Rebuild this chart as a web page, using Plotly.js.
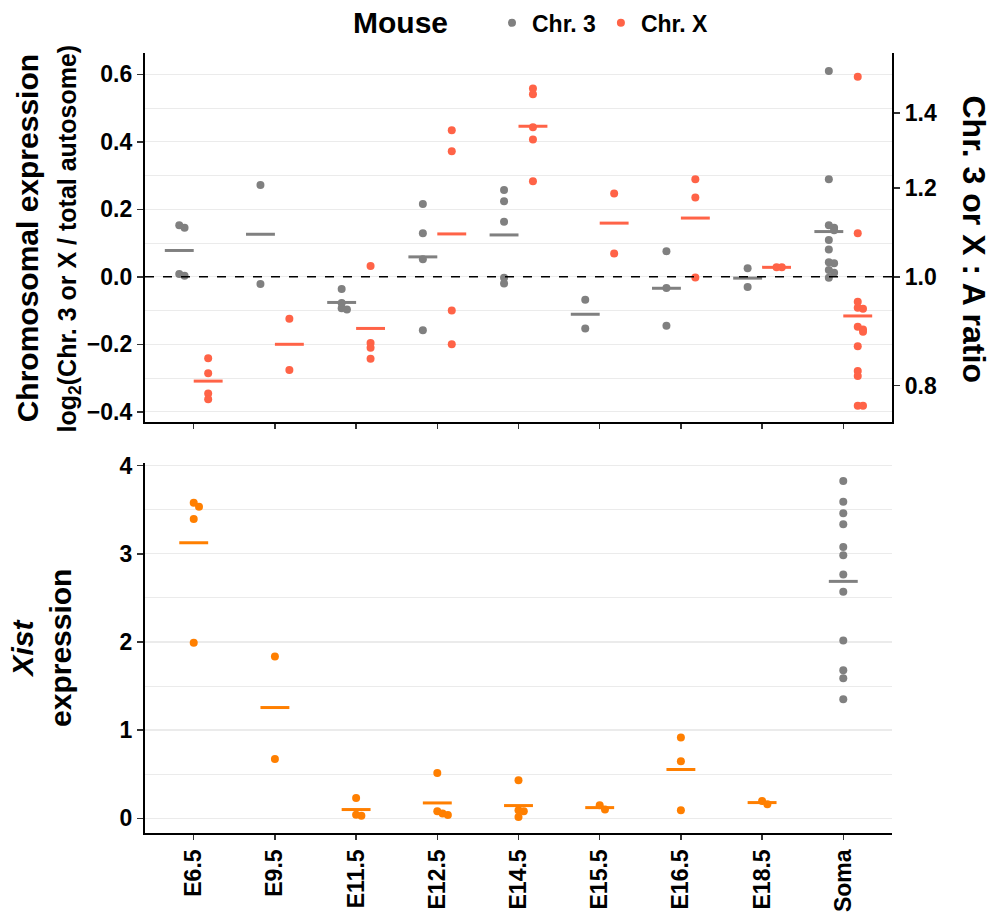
<!DOCTYPE html>
<html>
<head>
<meta charset="utf-8">
<script src="https://cdn.plot.ly/plotly-3.0.1.min.js"></script>
<style>html,body{margin:0;padding:0;background:#fff;}#chart{width:994px;height:916px;}</style>
</head>
<body>
<div id="chart"></div>
<script>
// ---------------- data ----------------
const categories = ["E6.5","E9.5","E11.5","E12.5","E14.5","E15.5","E16.5","E18.5","Soma"];

// log2(Chr. 3 / total autosome) per sample
const chr3Values = [
  [0.153, 0.145, 0.008, 0.003],
  [0.272, -0.021],
  [-0.036, -0.078, -0.093, -0.097],
  [0.216, 0.129, 0.052, -0.158],
  [0.257, 0.224, 0.163, -0.003, -0.020],
  [-0.068, -0.153],
  [0.076, -0.033, -0.145],
  [0.025, -0.030],
  [0.610, 0.289, 0.153, 0.145, 0.138, 0.109, 0.081, 0.043, 0.040, 0.020, 0.012, -0.003]
];
const chr3Means = [0.078, 0.126, -0.076, 0.059, 0.124, -0.111, -0.034, -0.004, 0.134];

// log2(Chr. X / total autosome) per sample
const chrXValues = [
  [-0.241, -0.286, -0.346, -0.363],
  [-0.124, -0.276],
  [0.032, -0.196, -0.210, -0.243],
  [0.434, 0.372, -0.100, -0.200],
  [0.558, 0.541, 0.443, 0.407, 0.283],
  [0.247, 0.069],
  [0.289, 0.235, -0.002],
  [0.028, 0.028],
  [0.593, 0.129, -0.074, -0.092, -0.095, -0.148, -0.156, -0.163, -0.206, -0.279, -0.294, -0.382, -0.382]
];
const chrXMeans = [-0.309, -0.200, -0.153, 0.127, 0.446, 0.159, 0.174, 0.028, -0.116];

// Xist expression per sample
const xistValues = [
  [3.579, 3.534, 3.394, 1.990],
  [1.835, 0.673],
  [0.231, 0.040, 0.030],
  [0.514, 0.079, 0.053, 0.037],
  [0.431, 0.091, 0.079, 0.015],
  [0.148, 0.099],
  [0.916, 0.647, 0.091],
  [0.196, 0.159],
  [3.825, 3.590, 3.459, 3.334, 3.076, 2.982, 2.766, 2.569, 2.017, 1.680, 1.589, 1.351]
];
const xistMeans = [3.125, 1.256, 0.099, 0.174, 0.144, 0.121, 0.553, 0.178, 2.687];

const ratioTicks = [0.8, 1.0, 1.2, 1.4];
const log2Ticks = [-0.4, -0.2, 0.0, 0.2, 0.4, 0.6];
const xistTicks = [0, 1, 2, 3, 4];

// ---------------- styling ----------------
const FONT = '"Liberation Sans", Arial, Helvetica, sans-serif';
const GRAY = '#808080', RED = '#FF6347', ORANGE = '#FF7F00';
const GRID = '#ebebeb';
const DODGE = 0.178, HALF = 0.178, NUDGE = 0.065;

function nudges(vals, thr) {
  return vals.map((v, i) => {
    let k = 0;
    for (let j = 0; j < i; j++) if (Math.abs(vals[j] - v) < thr) k++;
    return k * NUDGE;
  });
}
function pointTrace(groups, shift, thr, color, name, xa, ya, filter, legend) {
  const x = [], y = [];
  groups.forEach((vals, i) => {
    if (filter && !filter(i)) return;
    const off = nudges(vals, thr);
    vals.forEach((v, j) => { x.push(i + shift + off[j]); y.push(v); });
  });
  return { type: 'scatter', mode: 'markers', x, y, name, xaxis: xa, yaxis: ya,
    marker: { color, size: 8 }, showlegend: !!legend, hoverinfo: 'x+y' };
}
function meanTrace(means, shift, color, xa, ya, filter) {
  const x = [], y = [];
  means.forEach((m, i) => {
    if (filter && !filter(i)) return;
    x.push(i + shift - HALF, i + shift + HALF, null);
    y.push(m, m, null);
  });
  return { type: 'scatter', mode: 'lines', x, y, xaxis: xa, yaxis: ya,
    line: { color, width: 3 }, showlegend: false, hoverinfo: 'skip' };
}

const isSoma = i => categories[i] === 'Soma';
const notSoma = i => !isSoma(i);

const traces = [
  meanTrace(chr3Means, -DODGE, GRAY, 'x', 'y'),
  meanTrace(chrXMeans, DODGE, RED, 'x', 'y'),
  pointTrace(chr3Values, -DODGE, 0.012, GRAY, 'Chr. 3', 'x', 'y', null, true),
  pointTrace(chrXValues, DODGE, 0.012, RED, 'Chr. X', 'x', 'y', null, true),
  meanTrace(xistMeans, 0, ORANGE, 'x2', 'y2', notSoma),
  meanTrace(xistMeans, 0, GRAY, 'x2', 'y2', isSoma),
  pointTrace(xistValues, 0, 0.05, ORANGE, 'Xist', 'x2', 'y2', notSoma, false),
  pointTrace(xistValues, 0, 0.05, GRAY, 'Xist soma', 'x2', 'y2', isSoma, false),
  // carrier for the right-hand ratio axis
  { type: 'scatter', mode: 'markers', x: [null], y: [null], xaxis: 'x', yaxis: 'y3',
    showlegend: false, hoverinfo: 'skip' }
];

const tickFont = { family: FONT, size: 23, color: '#000', weight: 'bold' };
const catIdx = categories.map((c, i) => i);
const topRange = [-0.43, 0.663];

const layout = {
  width: 994, height: 916,
  margin: { l: 145, r: 102, t: 53, b: 83, autoexpand: false },
  paper_bgcolor: '#fff', plot_bgcolor: '#fff',
  font: { family: FONT, color: '#000' },
  showlegend: true,
  legend: {
    orientation: 'h', xref: 'paper', x: 0.4645, xanchor: 'left',
    yref: 'container', y: 0.975, yanchor: 'middle',
    font: { family: FONT, size: 23, weight: 'bold', color: '#000' },
    bgcolor: 'rgba(0,0,0,0)', borderwidth: 0, itemclick: false
  },
  xaxis: {
    domain: [0, 1], anchor: 'y', range: [-0.6, 8.6],
    tickmode: 'array', tickvals: catIdx, ticktext: categories, showticklabels: false,
    ticks: 'outside', ticklen: 5, tickwidth: 1.5, tickcolor: '#333',
    showline: true, linecolor: '#000', linewidth: 2.2, showgrid: false, zeroline: false
  },
  yaxis: {
    domain: [0.527, 1], anchor: 'x', range: topRange,
    tickmode: 'array', tickvals: log2Ticks, ticktext: log2Ticks.map(v => v.toFixed(1).replace('-', '\u2212')),
    tickfont: tickFont, ticks: 'outside', ticklen: 6, tickwidth: 1.5, tickcolor: '#333',
    showline: true, linecolor: '#000', linewidth: 2.2,
    showgrid: true, gridcolor: GRID, gridwidth: 1.3, zeroline: false,
    minor: { tickmode: 'linear', tick0: 0, dtick: 0.1, showgrid: true, gridcolor: GRID, gridwidth: 1, ticks: '' }
  },
  yaxis3: {
    overlaying: 'y', anchor: 'x', side: 'right', range: topRange,
    tickmode: 'array', tickvals: ratioTicks.map(r => Math.log2(r)), ticktext: ratioTicks.map(r => r.toFixed(1)),
    tickfont: tickFont, ticks: 'outside', ticklen: 6, tickwidth: 1.5, tickcolor: '#333',
    showline: true, linecolor: '#000', linewidth: 2.2, showgrid: false, zeroline: false
  },
  xaxis2: {
    domain: [0, 1], anchor: 'y2', range: [-0.6, 8.6],
    tickmode: 'array', tickvals: catIdx, ticktext: categories, tickangle: -90,
    tickfont: tickFont, ticks: 'outside', ticklen: 5, tickwidth: 1.5, tickcolor: '#333',
    showline: true, linecolor: '#000', linewidth: 2.2, showgrid: false, zeroline: false
  },
  yaxis2: {
    domain: [0, 0.4744], anchor: 'x2', range: [-0.167, 4.03],
    tickmode: 'array', tickvals: xistTicks, ticktext: xistTicks.map(String),
    tickfont: tickFont, ticks: 'outside', ticklen: 6, tickwidth: 1.5, tickcolor: '#333',
    showline: true, linecolor: '#000', linewidth: 2.2,
    showgrid: true, gridcolor: GRID, gridwidth: 1.3, zeroline: false,
    minor: { tickmode: 'linear', tick0: 0, dtick: 0.5, showgrid: true, gridcolor: GRID, gridwidth: 1, ticks: '' }
  },
  shapes: [
    { type: 'line', xref: 'x domain', yref: 'y', x0: 0, x1: 1, y0: 0, y1: 0,
      line: { color: '#000', width: 1.5, dash: 'dash' } }
  ],
  annotations: [
    { text: 'Mouse', xref: 'paper', yref: 'paper', x: 0.3414, y: 1.0397,
      xanchor: 'center', yanchor: 'middle', showarrow: false,
      font: { family: FONT, size: 30, weight: 'bold', color: '#000' } },
    { text: 'Chromosomal expression', xref: 'paper', yref: 'paper', x: -0.157, y: 0.762,
      xanchor: 'center', yanchor: 'middle', textangle: -90, showarrow: false,
      font: { family: FONT, size: 30, weight: 'bold', color: '#000' } },
    { text: 'log<sub>2</sub>(Chr. 3 or X / total autosome)', xref: 'paper', yref: 'paper', x: -0.102, y: 0.762,
      xanchor: 'center', yanchor: 'middle', textangle: -90, showarrow: false,
      font: { family: FONT, size: 25, weight: 'bold', color: '#000' } },
    { text: 'Chr. 3 or X : A ratio', xref: 'paper', yref: 'paper', x: 1.11, y: 0.762,
      xanchor: 'center', yanchor: 'middle', textangle: 90, showarrow: false,
      font: { family: FONT, size: 32, weight: 'bold', color: '#000' } },
    { text: '<i>Xist</i>', xref: 'paper', yref: 'paper', x: -0.164, y: 0.237,
      xanchor: 'center', yanchor: 'middle', textangle: -90, showarrow: false,
      font: { family: FONT, size: 30, weight: 'bold', color: '#000' } },
    { text: 'expression', xref: 'paper', yref: 'paper', x: -0.114, y: 0.237,
      xanchor: 'center', yanchor: 'middle', textangle: -90, showarrow: false,
      font: { family: FONT, size: 30, weight: 'bold', color: '#000' } }
  ]
};

Plotly.newPlot('chart', traces, layout, { displayModeBar: false, staticPlot: true });
</script>
</body>
</html>
